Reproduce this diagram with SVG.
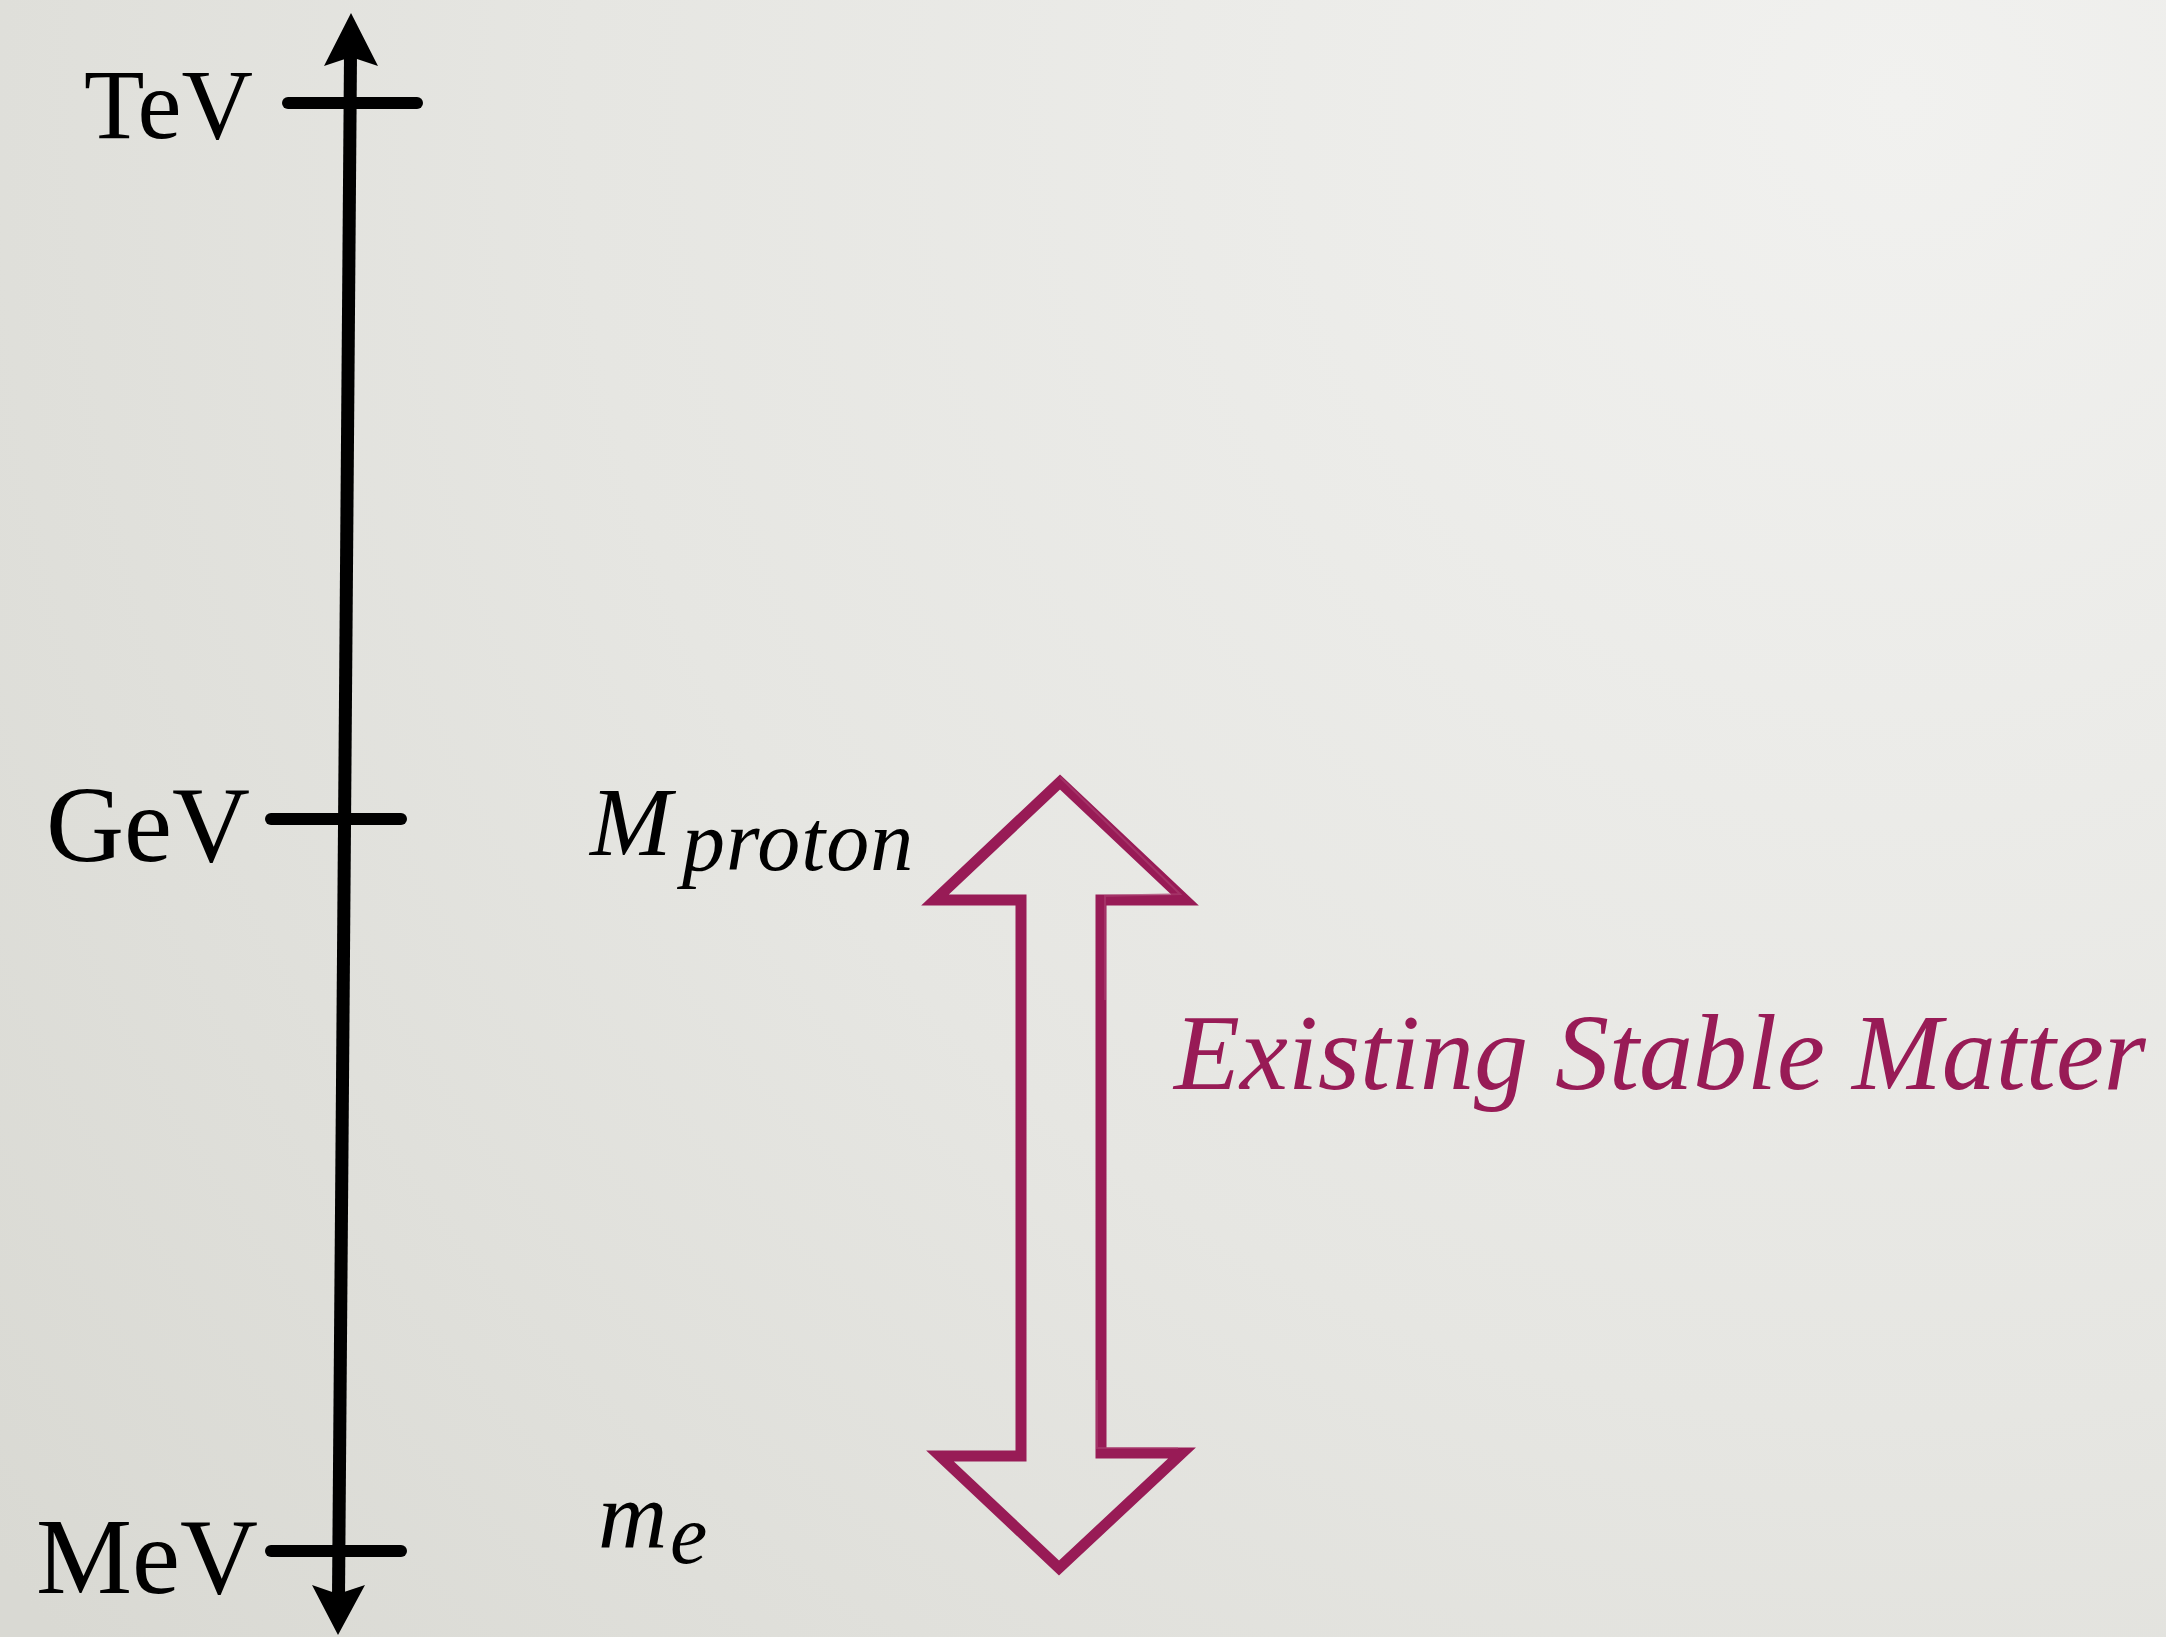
<svg xmlns="http://www.w3.org/2000/svg" width="2166" height="1637" viewBox="0 0 2166 1637">
  <defs>
    <radialGradient id="bg" cx="1900" cy="100" r="2400" gradientUnits="userSpaceOnUse">
      <stop offset="0" stop-color="#f1f1ef"/>
      <stop offset="0.55" stop-color="#e6e6e2"/>
      <stop offset="1" stop-color="#d9d9d3"/>
    </radialGradient>
    <style>
      .lbl { font-family: "Liberation Serif", "Times New Roman", serif; fill: #000; }
      .math { font-family: "Liberation Serif", "Times New Roman", serif; font-style: italic; fill: #000; }
      .tick { stroke: #000; stroke-width: 12; stroke-linecap: round; fill: none; }
      .axis { stroke: #000; stroke-width: 13; fill: none; }
      .head { fill: #000; stroke: none; }
      .hollow { fill: none; stroke: #981b56; stroke-width: 11; stroke-linejoin: miter; stroke-miterlimit: 10; }
      .hollow2 { fill: none; stroke: #b04a78; stroke-width: 2; stroke-opacity: 0.5; }
      .caption { font-family: "Liberation Serif", "Times New Roman", serif; font-style: italic; fill: #981b56; }
    </style>
  </defs>

  <rect x="0" y="0" width="2166" height="1637" fill="url(#bg)"/>

  <g id="connectors">
    <g id="axis">
      <line class="axis" x1="350.5" y1="55" x2="338.5" y2="1596"/>
      <polygon class="head" points="351,13 378,66 351,57 324,66"/>
      <polygon class="head" points="338,1635 312,1585 338,1594 365,1585"/>
    </g>
    <g id="stable-matter-arrow">
      <polygon class="hollow" points="1060,782 1185,900 1101,900 1101,1453 1182,1453 1059,1568 940,1456 1021,1456 1021,900 935,900"/>
      <polyline class="hollow2" points="1060,777 1180,894 1105,896 1105,1000"/>
      <polyline class="hollow2" points="1097,1380 1097,1448 1178,1448"/>
    </g>
  </g>

  <g id="node-tev">
    <line class="tick" x1="288" y1="103" x2="417" y2="103"/>
    <text class="lbl" x="253" y="138" font-size="99" text-anchor="end">TeV</text>
  </g>

  <g id="node-gev">
    <line class="tick" x1="271" y1="819" x2="401" y2="819"/>
    <text class="lbl" x="250" y="861" font-size="108" text-anchor="end">GeV</text>
  </g>

  <g id="node-mev">
    <line class="tick" x1="271" y1="1551" x2="401" y2="1551"/>
    <text class="lbl" x="258" y="1593" font-size="108" text-anchor="end">MeV</text>
  </g>

  <g id="node-mproton">
    <text class="math" x="590" y="855" font-size="98">M</text>
    <text class="math" x="682" y="870" font-size="86" letter-spacing="1">proton</text>
  </g>

  <g id="node-me">
    <text class="math" x="598" y="1548" font-size="96">m</text>
    <text class="math" x="670" y="1563" font-size="84">e</text>
  </g>

  <g id="node-caption">
    <text class="caption" x="1174" y="1089" font-size="108">Existing Stable Matter</text>
  </g>
</svg>
